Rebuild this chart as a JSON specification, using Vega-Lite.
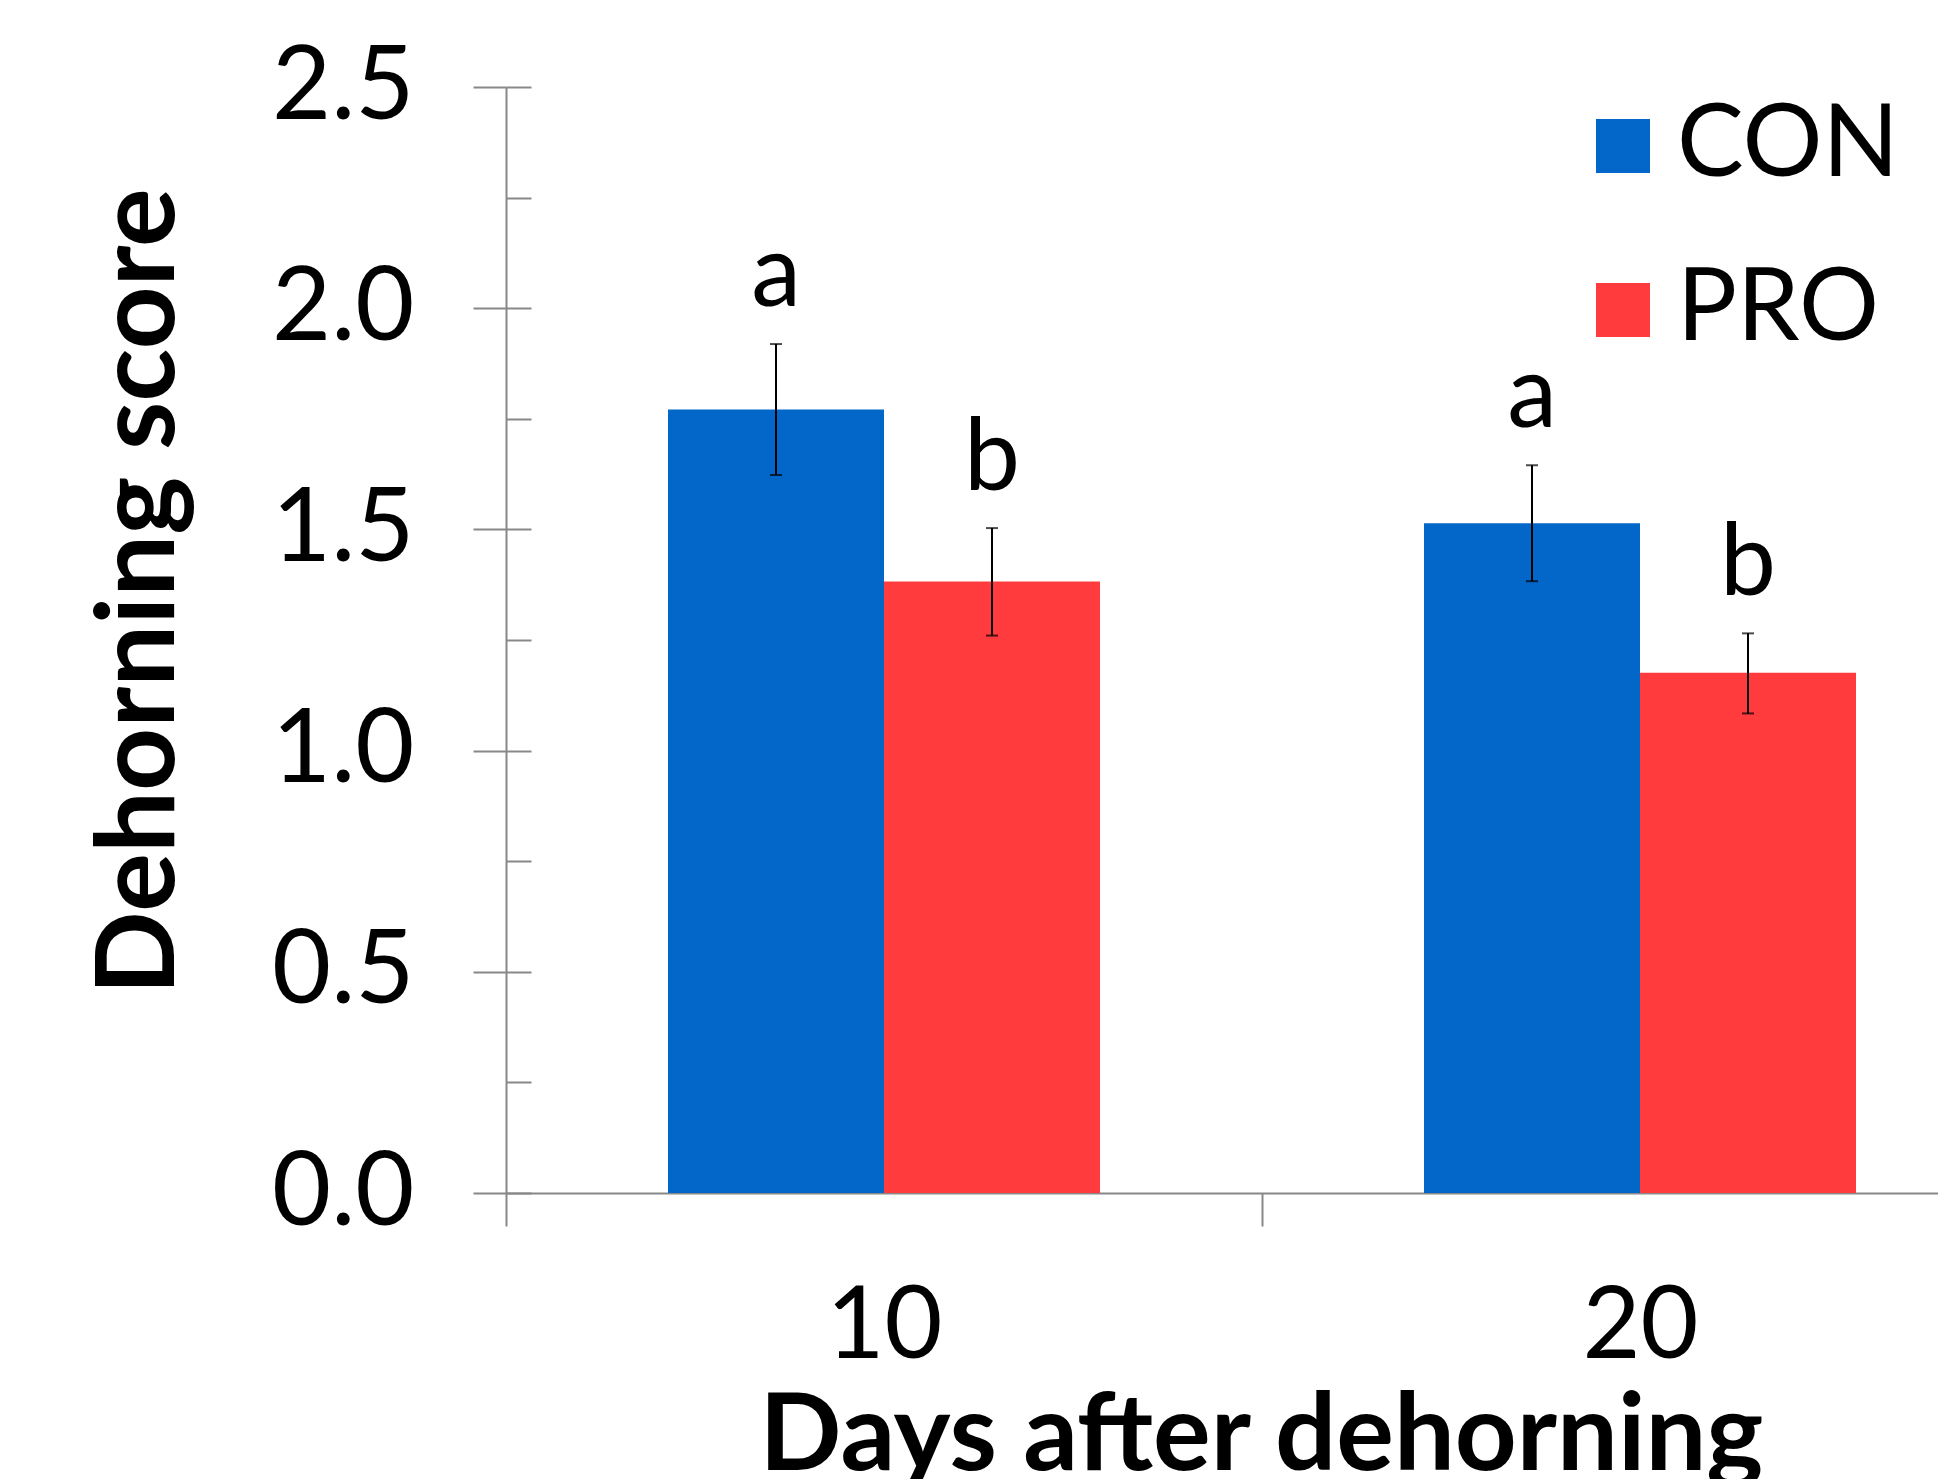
{
  "$schema": "https://vega.github.io/schema/vega-lite/v6.json",
  "autosize": {"type": "none"},
  "padding": {"left": 506, "top": 87, "right": 0, "bottom": 286},
  "width": 1432,
  "height": 1106,
  "background": "white",
  "config": {"view": {"stroke": null}, "font": "Lato"},
  "data": {"values": [
    {"day": "10", "group": "CON", "mean": 1.771, "lo": 1.623, "hi": 1.919, "letter": "a"},
    {"day": "10", "group": "PRO", "mean": 1.382, "lo": 1.260, "hi": 1.503, "letter": "b"},
    {"day": "20", "group": "CON", "mean": 1.514, "lo": 1.383, "hi": 1.645, "letter": "a"},
    {"day": "20", "group": "PRO", "mean": 1.176, "lo": 1.084, "hi": 1.265, "letter": "b"}
  ]},
  "encoding": {
    "x": {"field": "day", "type": "nominal",
      "scale": {"range": [0, 1512], "paddingInner": 0, "paddingOuter": 0},
      "axis": {"title": "Days after dehorning", "titleFont": "Lato", "titleFontWeight": "bold", "titleFontSize": 108, "titleColor": "black",
        "titleX": 755, "titleY": 276, "titleBaseline": "alphabetic", "titleAlign": "center",
        "labelAngle": 0, "labelFont": "Lato", "labelFontSize": 100, "labelColor": "black", "labelBaseline": "alphabetic", "labelPadding": 131,
        "tickBand": "extent", "tickSize": 33, "tickColor": "#888888", "tickWidth": 2,
        "domainColor": "#888888", "domainWidth": 2, "grid": false}},
    "xOffset": {"field": "group", "type": "nominal", "scale": {"domain": ["CON", "PRO"], "paddingInner": 0, "paddingOuter": 0.75}}
  },
  "layer": [
    {
      "mark": {"type": "bar"},
      "encoding": {
        "y": {"field": "mean", "type": "quantitative",
          "scale": {"domain": [0, 2.5], "nice": false},
          "axis": {"orient": "left", "values": [0, 0.5, 1, 1.5, 2, 2.5], "format": ".1f", "grid": false,
            "tickSize": 33, "tickColor": "#888888", "tickWidth": 2, "domainColor": "#888888", "domainWidth": 2,
            "labelFont": "Lato", "labelFontSize": 102, "labelColor": "black", "labelPadding": 59, "labelBaseline": "middle",
            "title": "Dehorning score", "titleFont": "Lato", "titleFontWeight": "bold", "titleFontSize": 110, "titleColor": "black",
            "titleX": -333, "titleY": 504, "titleAlign": "center", "titleBaseline": "alphabetic", "titleAngle": -90}},
        "color": {"field": "group", "type": "nominal",
          "scale": {"domain": ["CON", "PRO"], "range": ["#0366C9", "#FF3B3D"]},
          "legend": {"orient": "none", "legendX": 1067, "legendY": 9, "title": null, "padding": 0,
            "symbolType": "square", "symbolSize": 2916, "symbolStrokeWidth": 0, "symbolOpacity": 1,
            "labelFont": "Lato", "labelFontSize": 100, "labelColor": "black", "labelOffset": 4, "labelLimit": 0, "rowPadding": 64}}
      }
    },
    {
      "mark": {"type": "rule", "color": "black", "strokeWidth": 2},
      "encoding": {
        "y": {"field": "lo", "type": "quantitative",
          "axis": {"orient": "left", "values": [0, 0.25, 0.5, 0.75, 1, 1.25, 1.5, 1.75, 2, 2.25, 2.5], "tickSize": -25,
            "tickColor": "#888888", "tickWidth": 2, "labels": false, "domain": false, "title": null, "grid": false}},
        "y2": {"field": "hi"}
      }
    },
    {
      "mark": {"type": "tick", "color": "black", "orient": "horizontal", "size": 12, "thickness": 2},
      "encoding": {"y": {"field": "lo", "type": "quantitative", "axis": null}}
    },
    {
      "mark": {"type": "tick", "color": "black", "orient": "horizontal", "size": 12, "thickness": 2},
      "encoding": {"y": {"field": "hi", "type": "quantitative", "axis": null}}
    },
    {
      "mark": {"type": "text", "font": "Lato", "fontSize": 100, "color": "black", "baseline": "alphabetic", "align": "center", "dy": -38},
      "encoding": {
        "y": {"field": "hi", "type": "quantitative", "axis": null},
        "text": {"field": "letter"}
      }
    }
  ],
  "resolve": {"axis": {"y": "independent"}}
}
